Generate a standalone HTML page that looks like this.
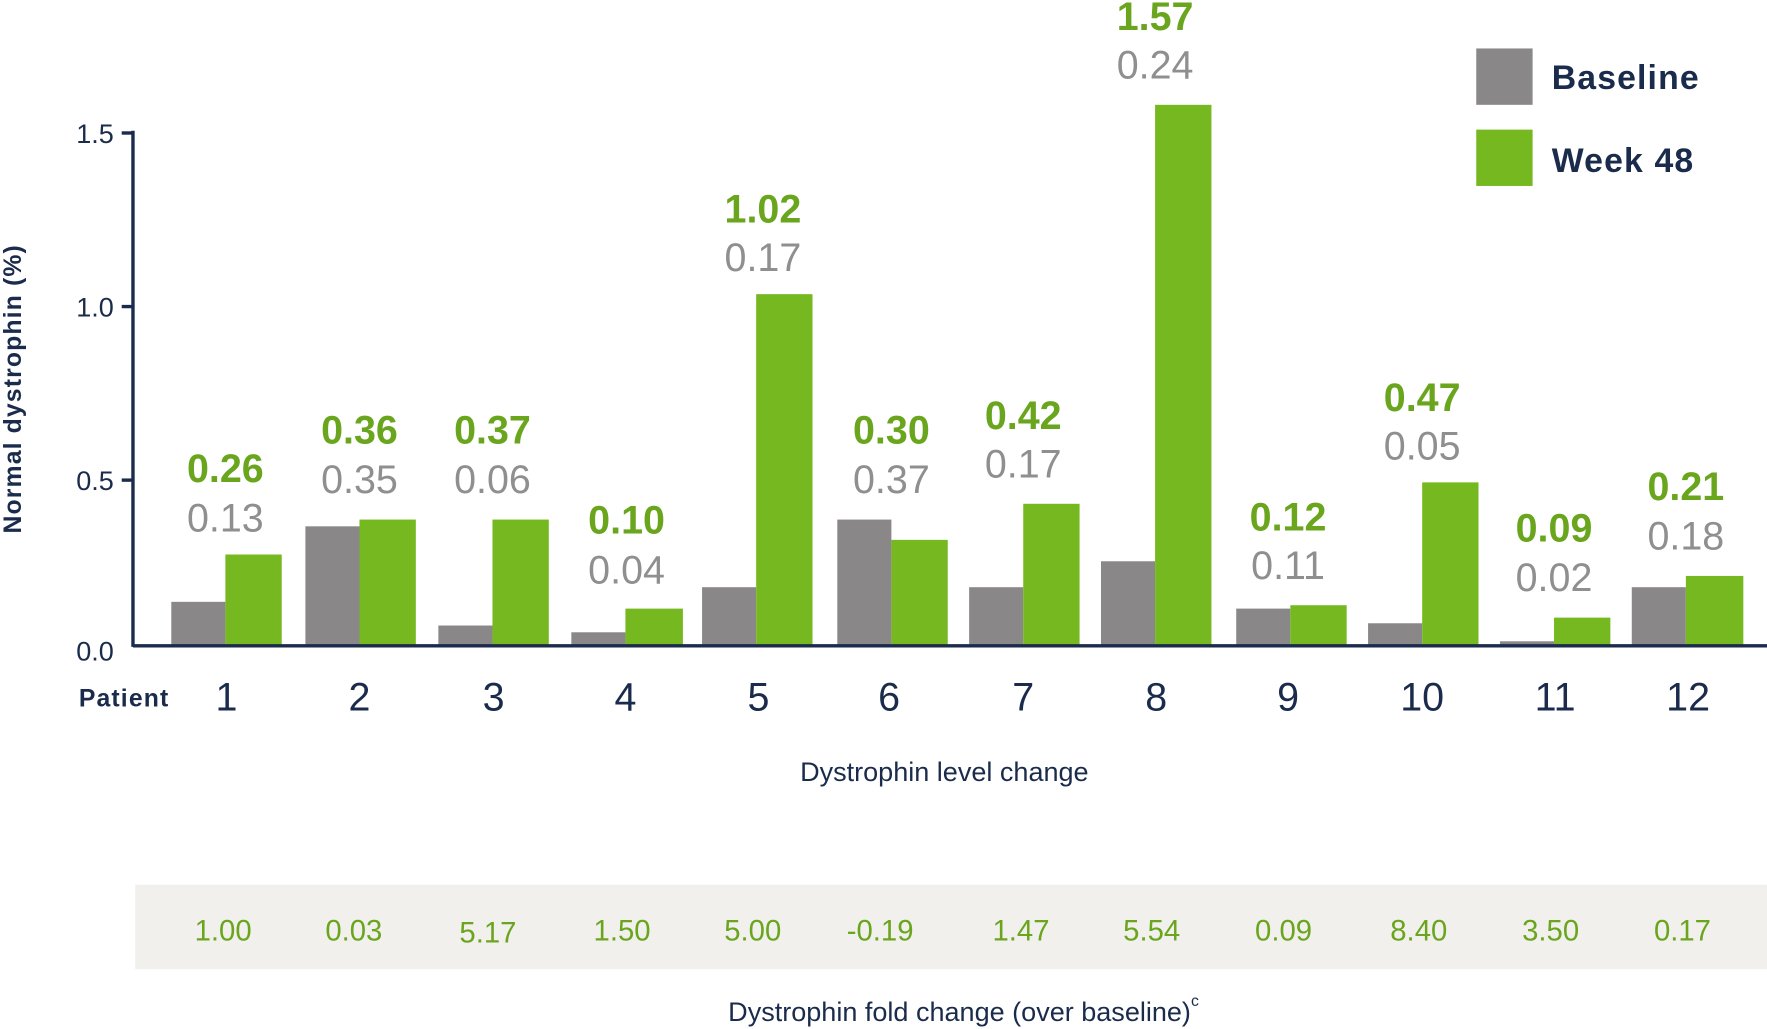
<!DOCTYPE html>
<html><head><meta charset="utf-8"><style>
html,body{margin:0;padding:0;background:#fff;}
svg{display:block;}
text{font-family:"Liberation Sans",sans-serif;}
</style></head><body>
<svg width="1767" height="1029" viewBox="0 0 1568 913" preserveAspectRatio="none" xmlns="http://www.w3.org/2000/svg">
<rect x="120" y="785" width="1448" height="75" fill="#f1f0ec"/>
<g fill="#898788">
<rect x="152" y="534" width="48" height="39"/>
<rect x="271" y="467" width="48" height="106"/>
<rect x="389" y="555" width="48" height="18"/>
<rect x="507" y="561" width="48" height="12"/>
<rect x="623" y="521" width="48" height="52"/>
<rect x="743" y="461" width="48" height="112"/>
<rect x="860" y="521" width="48" height="52"/>
<rect x="977" y="498" width="48" height="75"/>
<rect x="1097" y="540" width="48" height="33"/>
<rect x="1214" y="553" width="48" height="20"/>
<rect x="1331" y="569" width="48" height="4"/>
<rect x="1448" y="521" width="48" height="52"/>
</g>
<g fill="#76b820">
<rect x="200" y="492" width="50" height="81"/>
<rect x="319" y="461" width="50" height="112"/>
<rect x="437" y="461" width="50" height="112"/>
<rect x="555" y="540" width="51" height="33"/>
<rect x="671" y="261" width="50" height="312"/>
<rect x="791" y="479" width="50" height="94"/>
<rect x="908" y="447" width="50" height="126"/>
<rect x="1025" y="93" width="50" height="480"/>
<rect x="1145" y="537" width="50" height="36"/>
<rect x="1262" y="428" width="50" height="145"/>
<rect x="1379" y="548" width="50" height="25"/>
<rect x="1496" y="511" width="51" height="62"/>
</g>
<line x1="118" y1="573" x2="1568" y2="573" stroke="#1a2b4c" stroke-width="3"/>
<line x1="118" y1="116" x2="118" y2="574" stroke="#1a2b4c" stroke-width="3"/>
<g stroke="#1a2b4c" stroke-width="3">
<line x1="108" y1="118" x2="118" y2="118"/><line x1="108" y1="272" x2="118" y2="272"/><line x1="108" y1="426" x2="118" y2="426"/>
</g>
<g fill="#1a2b4c" font-size="24" text-anchor="end" dominant-baseline="central">
<text x="101" y="119">1.5</text><text x="101" y="273">1.0</text><text x="101" y="427">0.5</text><text x="101" y="578">0.0</text>
</g>
<text transform="translate(12,345) rotate(-90)" fill="#1a2b4c" font-size="22" font-weight="bold" text-anchor="middle" dominant-baseline="central" letter-spacing="1">Normal dystrophin (%)</text>
<g font-size="35" text-anchor="middle" dominant-baseline="central" font-weight="bold" fill="#6aa51e">
<text x="200" y="416">0.26</text><text x="319" y="382">0.36</text><text x="437" y="382">0.37</text><text x="556" y="462">0.10</text><text x="677" y="186">1.02</text><text x="791" y="382">0.30</text><text x="908" y="369">0.42</text><text x="1025" y="15">1.57</text><text x="1143" y="459">0.12</text><text x="1262" y="353">0.47</text><text x="1379" y="469">0.09</text><text x="1496" y="432">0.21</text>
</g>
<g font-size="35" text-anchor="middle" dominant-baseline="central" fill="#8f8f8f">
<text x="200" y="460">0.13</text><text x="319" y="426">0.35</text><text x="437" y="426">0.06</text><text x="556" y="506">0.04</text><text x="677" y="229">0.17</text><text x="791" y="426">0.37</text><text x="908" y="412">0.17</text><text x="1025" y="58">0.24</text><text x="1143" y="502">0.11</text><text x="1262" y="396">0.05</text><text x="1379" y="513">0.02</text><text x="1496" y="476">0.18</text>
</g>
<text x="70" y="620" fill="#1a2b4c" font-size="22" font-weight="bold" dominant-baseline="central" letter-spacing="1">Patient</text>
<g fill="#1a2b4c" font-size="35" text-anchor="middle" dominant-baseline="central">
<text x="201" y="619">1</text><text x="319" y="619">2</text><text x="438" y="619">3</text><text x="555" y="619">4</text><text x="673" y="619">5</text><text x="789" y="619">6</text><text x="908" y="619">7</text><text x="1026" y="619">8</text><text x="1143" y="619">9</text><text x="1262" y="619">10</text><text x="1380" y="619">11</text><text x="1498" y="619">12</text>
</g>
<rect x="1310" y="43" width="50" height="50" fill="#898788"/>
<rect x="1310" y="115" width="50" height="50" fill="#76b820"/>
<text x="1377" y="69" fill="#1a2b4c" font-size="30" font-weight="bold" dominant-baseline="central" letter-spacing="1">Baseline</text>
<text x="1377" y="143" fill="#1a2b4c" font-size="30" font-weight="bold" dominant-baseline="central" letter-spacing="1">Week 48</text>
<text x="838" y="685" fill="#1a2b4c" font-size="24" text-anchor="middle" dominant-baseline="central">Dystrophin level change</text>
<g fill="#6aa51e" font-size="26" text-anchor="middle" dominant-baseline="central">
<text x="198" y="826">1.00</text><text x="314" y="826">0.03</text><text x="433" y="828">5.17</text><text x="552" y="826">1.50</text><text x="668" y="826">5.00</text><text x="781" y="826">-0.19</text><text x="906" y="826">1.47</text><text x="1022" y="826">5.54</text><text x="1139" y="826">0.09</text><text x="1259" y="826">8.40</text><text x="1376" y="826">3.50</text><text x="1493" y="826">0.17</text>
</g>
<text x="855" y="898" fill="#1a2b4c" font-size="24" text-anchor="middle" dominant-baseline="central">Dystrophin fold change (over baseline)<tspan font-size="14" dy="-10">c</tspan></text>
</svg>
</body></html>
